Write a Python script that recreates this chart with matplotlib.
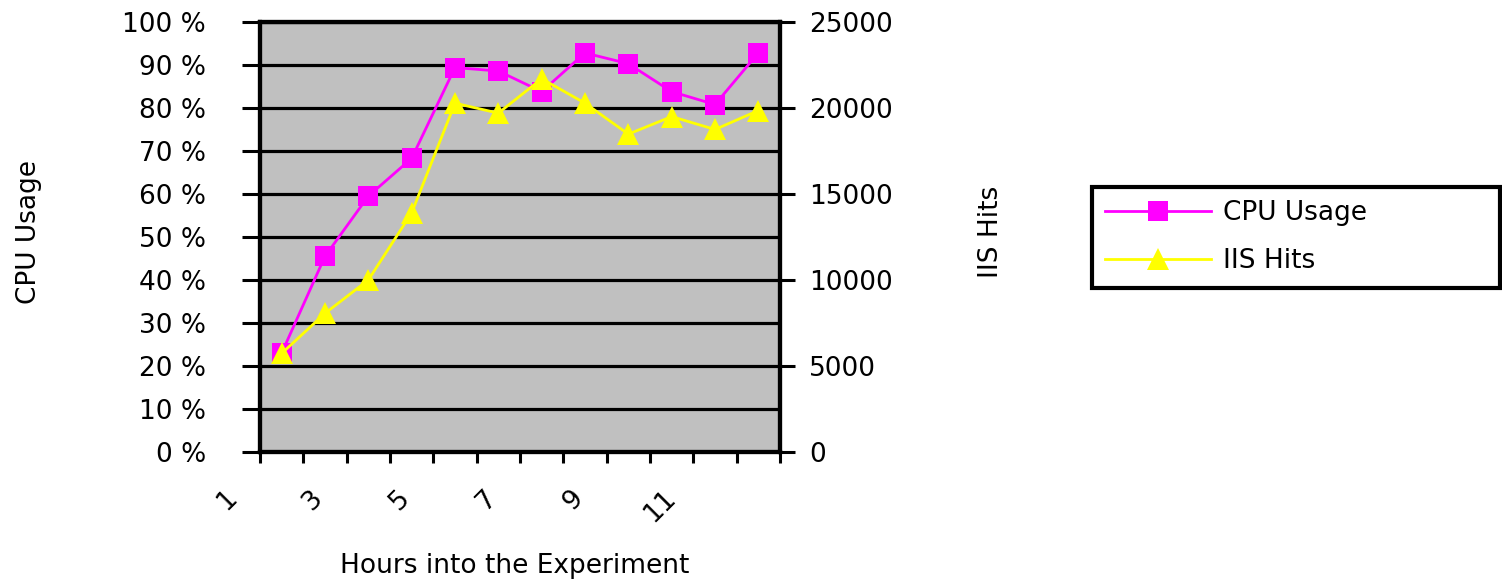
import matplotlib
matplotlib.use('Agg')
import matplotlib.pyplot as plt
import matplotlib.transforms as mtransforms
from matplotlib.ticker import FixedLocator, NullFormatter

# data
hours = [1, 2, 3, 4, 5, 6, 7, 8, 9, 10, 11, 12]
cpu_usage = [23, 45.5, 59.5, 68.3, 89.4, 88.6, 83.8, 92.8, 90.3, 83.8, 80.8, 92.8]
iis_hits = [5730, 8060, 10000, 13900, 20280, 19700, 21700, 20280, 18480, 19500, 18750, 19850]
hour_labels = ['1', '3', '5', '7', '9', '11']
cpu_ticks = [0, 10, 20, 30, 40, 50, 60, 70, 80, 90, 100]
hits_ticks = [0, 5000, 10000, 15000, 20000, 25000]

plt.rcParams['font.family'] = 'DejaVu Sans'
fs = 19

fig = plt.figure(figsize=(15.02, 5.8), dpi=100)
ax = fig.add_axes([0.1731, 0.2207, 0.3462, 0.7414])
ax.set_facecolor('#C0C0C0')

# CPU usage on the left axis
ax.plot(hours, cpu_usage, color='#FF00FF', lw=2, marker='s', markersize=14,
        markeredgewidth=0, label='CPU Usage', zorder=3)
ax.set_ylim(0, 100)
ax.set_xlim(0.5, 12.5)
ax.set_yticks(cpu_ticks)
ax.set_yticklabels([f'{v} %' for v in cpu_ticks], fontsize=fs)
ax.yaxis.grid(True, color='black', lw=2.3)
ax.set_axisbelow(True)

# x ticks: marks between categories, labels every other hour
ax.xaxis.set_major_locator(FixedLocator([h - 0.5 for h in hours] + [12.5]))
ax.xaxis.set_major_formatter(NullFormatter())
ax.xaxis.set_minor_locator(FixedLocator(hours[::2]))
ax.set_xticklabels(hour_labels, minor=True, fontsize=fs, rotation=45)
ax.tick_params(axis='x', which='major', direction='out', length=8, width=2.2)
ax.tick_params(axis='x', which='minor', length=0, pad=24)
shift = mtransforms.ScaledTranslation(-0.55, 0, fig.dpi_scale_trans)
for lab in ax.xaxis.get_minorticklabels():
    lab.set_transform(lab.get_transform() + shift)
ax.tick_params(axis='y', direction='out', length=13, width=2.2, pad=26)

for s in ax.spines.values():
    s.set_linewidth(3)
    s.set_color('black')

ax.set_ylabel('CPU Usage', fontsize=fs)
ax.yaxis.set_label_coords(-0.419, 0.512)
ax.set_xlabel('Hours into the Experiment', fontsize=fs)
ax.xaxis.set_label_coords(0.49, -0.235)

# IIS hits on the right axis
ax2 = ax.twinx()
ax2.plot(hours, iis_hits, color='#FFFF00', lw=2, marker='^', markersize=16,
         markeredgewidth=0, label='IIS Hits', zorder=3)
ax2.set_ylim(0, 25000)
ax2.set_yticks(hits_ticks)
ax2.set_yticklabels([str(v) for v in hits_ticks], fontsize=fs)
ax2.tick_params(axis='y', direction='out', length=11, width=2.2, pad=10)
ax2.set_ylabel('IIS Hits', fontsize=fs)
ax2.yaxis.set_label_coords(1.381, 0.512)
for s in ax2.spines.values():
    s.set_linewidth(3)

h1, l1 = ax.get_legend_handles_labels()
h2, l2 = ax2.get_legend_handles_labels()
leg = fig.legend(h1 + h2, l1 + l2, loc='upper left',
                 bbox_to_anchor=(0.727, 0.505, 0.272, 0.173), mode='expand',
                 borderaxespad=0, fontsize=fs, frameon=True, fancybox=False,
                 framealpha=1, handlelength=4.0, handletextpad=0.45,
                 labelspacing=0.85, borderpad=0.5)
leg.get_frame().set_edgecolor('black')
leg.get_frame().set_linewidth(3)

fig.savefig('out.png', dpi=100)
